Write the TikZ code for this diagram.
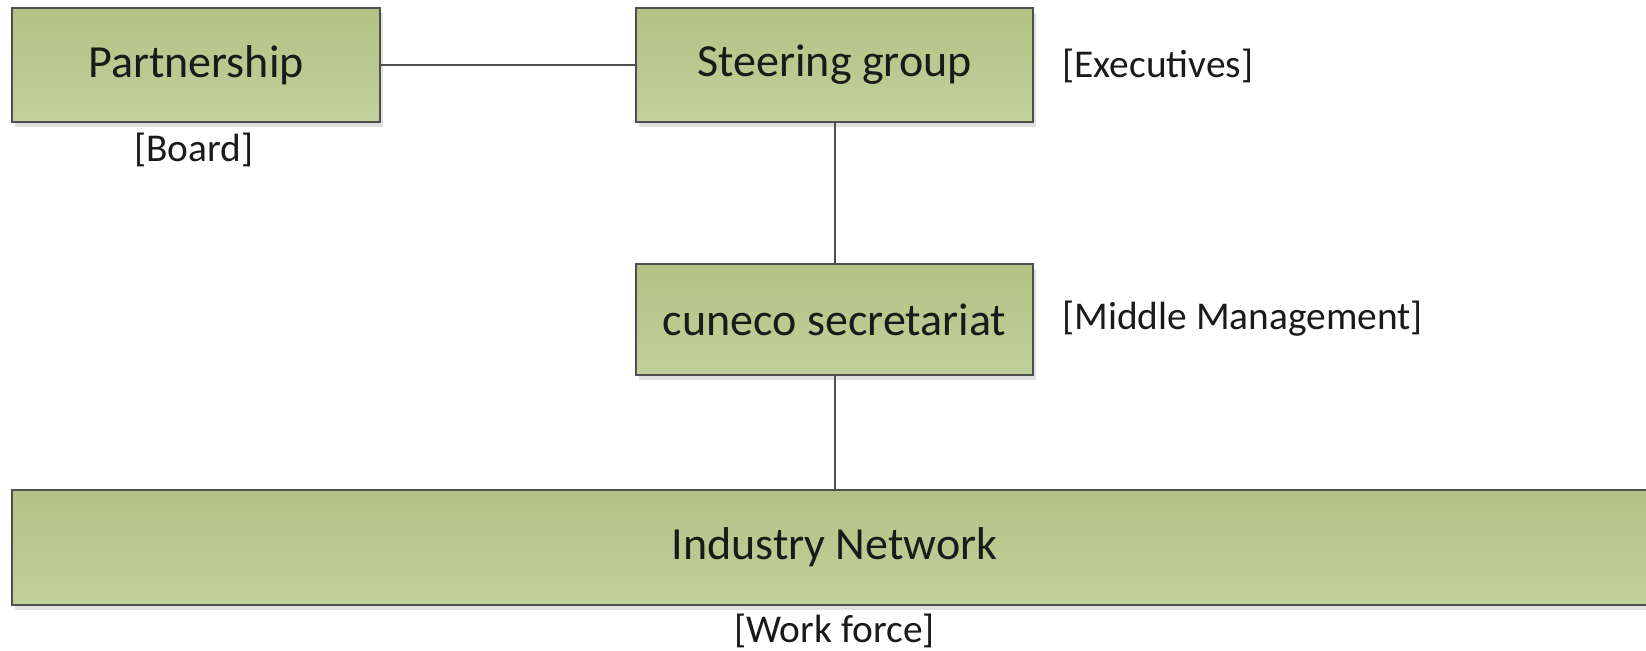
\documentclass[tikz,border=0pt]{standalone}
\usepackage{fontspec}
\setmainfont{Carlito}
\usepackage{xcolor}
\usepackage{tikz}
\usetikzlibrary{shadows}
\definecolor{bg}{HTML}{FFFFFF}
\definecolor{boxtop}{HTML}{B3C283}
\definecolor{boxbot}{HTML}{C2D09C}
\definecolor{edge}{HTML}{4F4F4F}
\definecolor{ink}{HTML}{1A1A1A}
\definecolor{shade}{HTML}{D9D9D9}
\tikzset{
  unit/.style={draw=edge, line width=1pt, top color=boxtop, bottom color=boxbot,
    text=ink, font=\fontsize{23}{27}\selectfont, inner sep=0pt,
    drop shadow={shadow xshift=1.5pt, shadow yshift=-2.5pt, fill=shade, opacity=0.8}},
  link/.style={draw=edge, line width=1pt},
  tag/.style={text=ink, font=\fontsize{19.7}{23}\selectfont, inner sep=0pt},
}
\begin{document}
\begin{tikzpicture}[x=0.5pt,y=-0.5pt]
  \useasboundingbox[fill=bg] (0,0) rectangle (1646,651);

  \node[unit, minimum width=184pt, minimum height=57pt] (partner) at (196,65) {Partnership};
  \node[unit, minimum width=198.5pt, minimum height=57pt] (steer) at (834.5,65) {Steering group};
  \node[unit, minimum width=198.5pt, minimum height=55.5pt] (secr) at (834.5,320) {cuneco secretariat};
  \node[unit, minimum width=820pt, minimum height=57.5pt] (network) at (832,547.5) {};
  \node[text=ink, font=\fontsize{23}{27}\selectfont] (nettext) at (834.5,547.5) {Industry Network};

  \draw[link] (partner) -- (steer);
  \draw[link] (steer) -- (secr);
  \draw[link] (secr) -- (secr |- network.north);

  \node[tag] (board) at (194,150) {[Board]};
  \node[tag, anchor=west] (exec) at (1062,66) {[Executives]};
  \node[tag, anchor=west] (middle) at (1062,319) {[Middle Management]};
  \node[tag] (work) at (834.5,631) {[Work force]};
\end{tikzpicture}
\end{document}
